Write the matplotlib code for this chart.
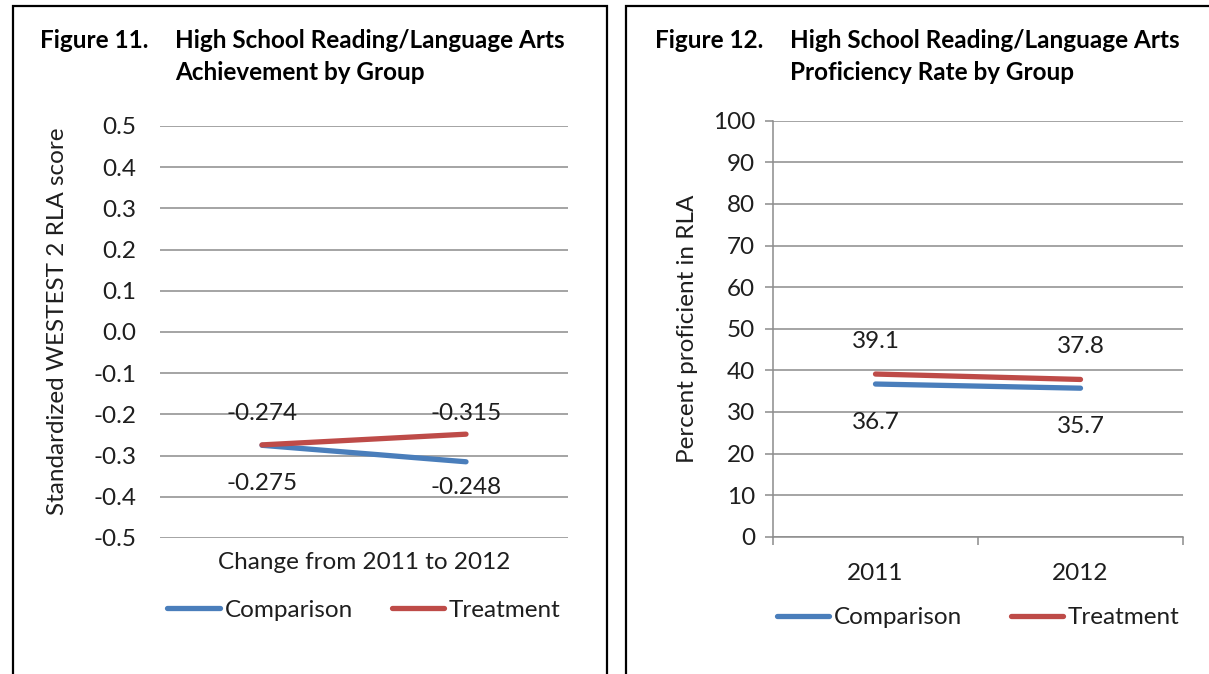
import matplotlib.pyplot as plt
from matplotlib.patches import Rectangle

# Figure 11 - standardized scores, change from 2011 to 2012
score_groups = ['Comparison', 'Treatment']
score_comparison = [-0.275, -0.315]
score_treatment = [-0.274, -0.248]
score_category = 'Change from 2011 to 2012'
score_ticks = [-0.5, -0.4, -0.3, -0.2, -0.1, 0.0, 0.1, 0.2, 0.3, 0.4, 0.5]

# Figure 12 - percent proficient by year
years = ['2011', '2012']
prof_comparison = [36.7, 35.7]
prof_treatment = [39.1, 37.8]
prof_ticks = [0, 10, 20, 30, 40, 50, 60, 70, 80, 90, 100]

BLUE = '#4a7ebb'
RED = '#be4b48'
GRID = '#8c8c8c'
TEXT = '#1e1e1e'
FS = 17.5

plt.rcParams['font.family'] = ['Lato', 'DejaVu Sans']

W, H = 1209, 674
fig = plt.figure(figsize=(W / 100, H / 100), dpi=100)


def fx(px):
    return px / W


def fy(py):
    return 1 - py / H


def panel_box(x0, x1):
    fig.patches.append(Rectangle((fx(x0), fy(700)), fx(x1 - x0), (700 - 6) / H,
                                 transform=fig.transFigure, fill=False,
                                 edgecolor='black', linewidth=1.6, zorder=0))


def title(xfig, xtext, label, line1, line2):
    kw = dict(fontsize=17.5, fontweight='bold', color='black', va='center')
    fig.text(fx(xfig), fy(41), label, **kw)
    fig.text(fx(xtext), fy(41), line1, **kw)
    fig.text(fx(xtext), fy(73), line2, **kw)


def legend(ax, y, colspace):
    ax.legend(loc='center', bbox_to_anchor=(0.5, y), ncol=2, frameon=False,
              fontsize=FS, handlelength=2.15, handletextpad=0.2,
              columnspacing=colspace, labelcolor=TEXT)


x = [0, 1]

# ---- left panel ----
panel_box(13, 607)
title(40, 175, 'Figure 11.', 'High School Reading/Language Arts',
      'Achievement by Group')

ax1 = fig.add_axes([fx(160), fy(538), fx(408), (538 - 126) / H])
ax1.plot(x, score_comparison, color=BLUE, lw=3.8, solid_capstyle='round',
         label=score_groups[0])
ax1.plot(x, score_treatment, color=RED, lw=3.8, solid_capstyle='round',
         label=score_groups[1])
ax1.set_xlim(-0.5, 1.5)
ax1.set_ylim(-0.5, 0.5)
ax1.set_yticks(score_ticks)
ax1.set_yticklabels([f'{v:.1f}'.replace('-0.0', '0.0') for v in score_ticks])
ax1.set_xticks([0.5])
ax1.set_xticklabels([score_category])
ax1.tick_params(axis='both', length=0, labelsize=FS, colors=TEXT)
ax1.tick_params(axis='y', pad=17)
ax1.tick_params(axis='x', pad=10)
ax1.grid(axis='y', color=GRID, lw=1.1)
ax1.set_axisbelow(True)
for s in ax1.spines.values():
    s.set_visible(False)
ax1.set_ylabel('Standardized WESTEST 2 RLA score', fontsize=FS, color=TEXT)
ax1.yaxis.set_label_coords(-0.226, 0.525)

# value labels (pixel offsets from each point)
label_offsets = {
    ('c', 0): -38, ('t', 0): 31,
    ('c', 1): 48, ('t', 1): -53,
}
for i in range(2):
    for key, vals in (('c', score_comparison), ('t', score_treatment)):
        ax1.annotate(f'{vals[i]:.3f}', (x[i], vals[i]),
                     xytext=(0, label_offsets[(key, i)]),
                     textcoords='offset pixels', ha='center', va='center',
                     fontsize=FS, color=TEXT)
legend(ax1, -0.175, 1.6)

# ---- right panel ----
panel_box(626, 1260)
title(655, 790, 'Figure 12.', 'High School Reading/Language Arts',
      'Proficiency Rate by Group')

ax2 = fig.add_axes([fx(773), fy(536.7), fx(410), (536.7 - 120.7) / H])
ax2.plot(x, prof_comparison, color=BLUE, lw=3.8, solid_capstyle='round',
         label=score_groups[0])
ax2.plot(x, prof_treatment, color=RED, lw=3.8, solid_capstyle='round',
         label=score_groups[1])
ax2.set_xlim(-0.5, 1.5)
ax2.set_ylim(0, 100)
ax2.set_yticks(prof_ticks)
ax2.set_xticks([-0.5, 0.5, 1.5])
ax2.set_xticklabels([])
ax2.set_xticks(x, minor=True)
ax2.set_xticklabels(years, minor=True)
ax2.tick_params(axis='x', which='major', length=6, direction='out',
                color=GRID, width=1.1)
ax2.tick_params(axis='x', which='minor', length=0, pad=19,
                labelsize=FS, colors=TEXT)
ax2.tick_params(axis='y', length=6, direction='out', color=GRID, width=1.1,
                labelsize=FS, labelcolor=TEXT, pad=7)
ax2.grid(axis='y', color=GRID, lw=1.1)
ax2.set_axisbelow(True)
for side in ('top', 'right'):
    ax2.spines[side].set_visible(False)
for side in ('left', 'bottom'):
    ax2.spines[side].set_color(GRID)
    ax2.spines[side].set_linewidth(1.1)
ax2.set_ylabel('Percent proficient in RLA', fontsize=FS, color=TEXT)
ax2.yaxis.set_label_coords(-0.183, 0.5)

for i in range(2):
    ax2.annotate(f'{prof_treatment[i]:.1f}', (x[i], prof_treatment[i]),
                 xytext=(0, 33), textcoords='offset pixels',
                 ha='center', va='center', fontsize=FS, color=TEXT)
    ax2.annotate(f'{prof_comparison[i]:.1f}', (x[i], prof_comparison[i]),
                 xytext=(0, -38), textcoords='offset pixels',
                 ha='center', va='center', fontsize=FS, color=TEXT)
legend(ax2, -0.195, 2.0)

fig.savefig('out.png', dpi=100)
